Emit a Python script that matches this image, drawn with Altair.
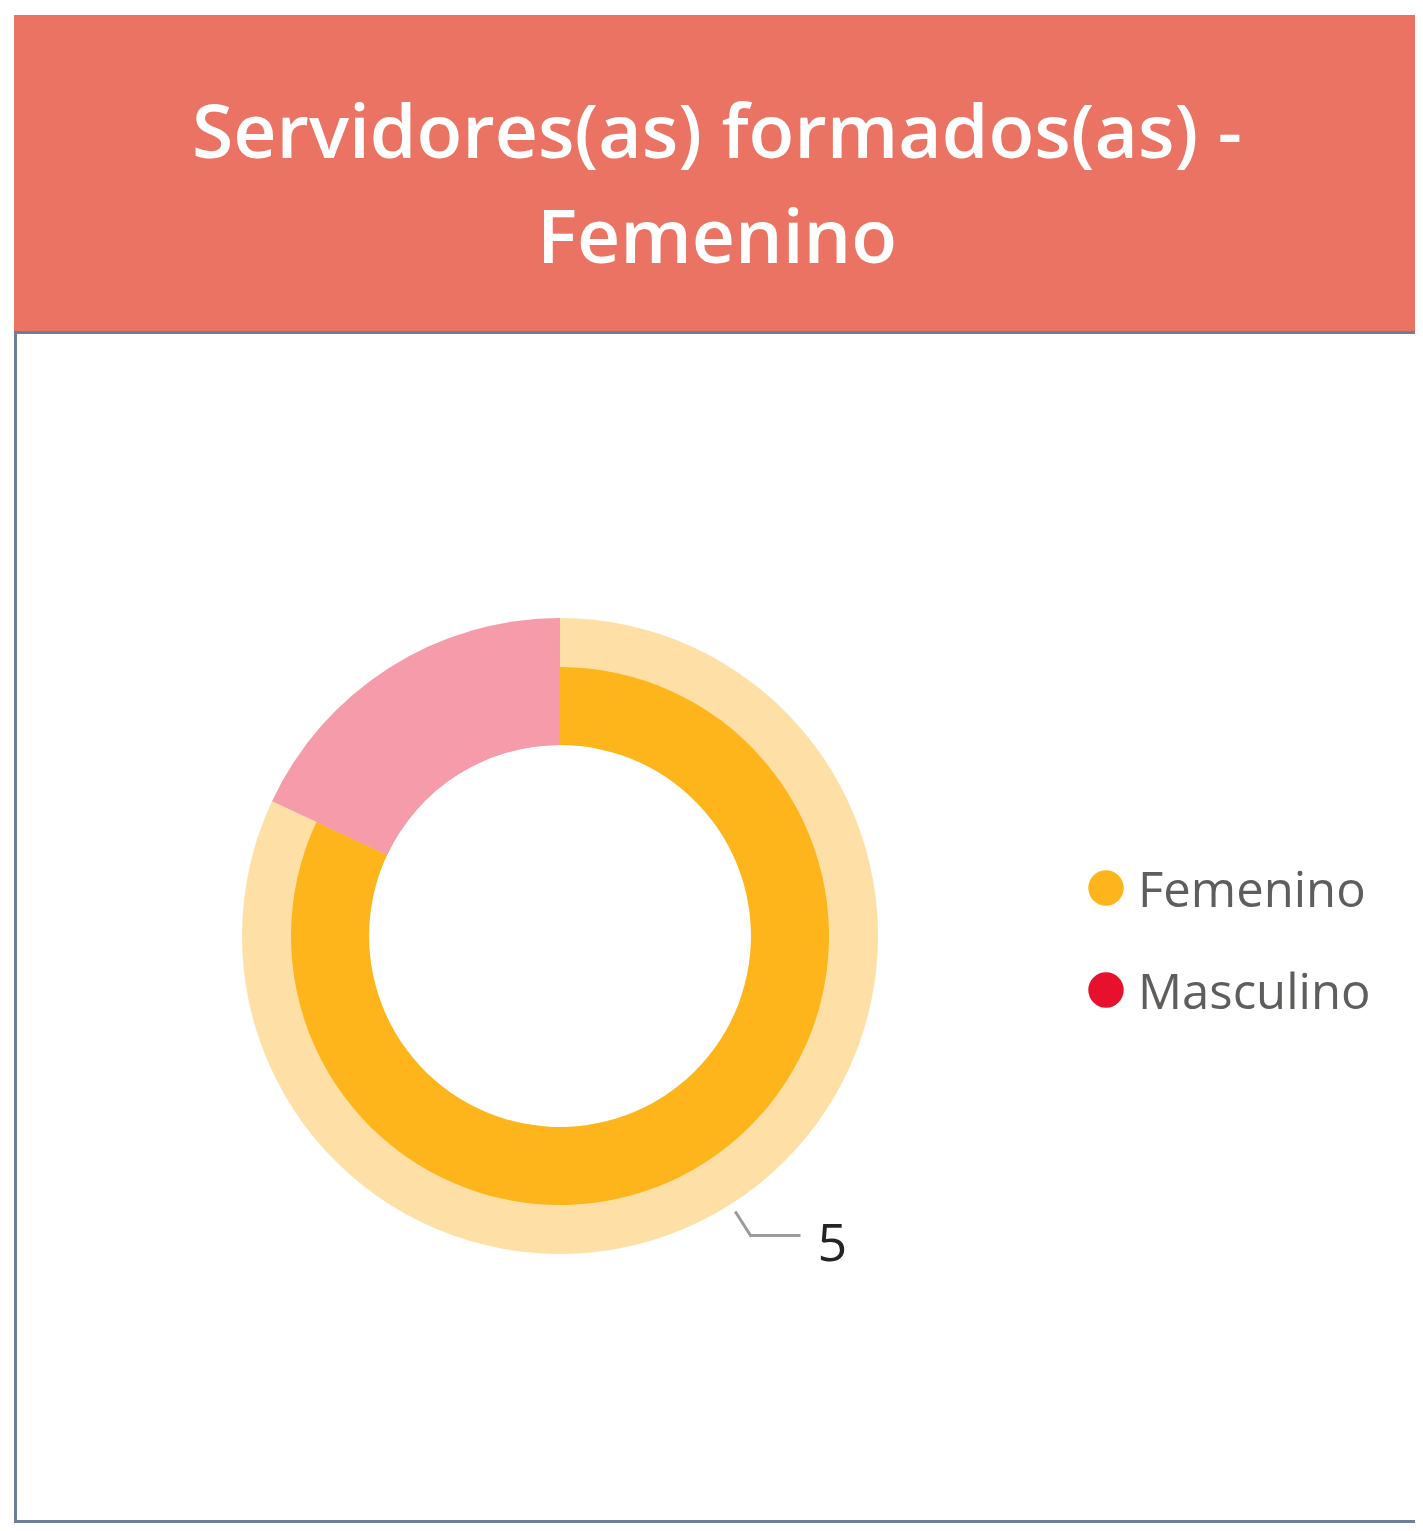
import altair as alt
import pandas as pd

# ---- data ----
title_lines = ["Servidores(as) formados(as) -", "Femenino"]
categories = ["Femenino", "Masculino"]
values = [5, 1.1]
labelled = ["Femenino"]

# ---- styles ----
legend_colors = ["#FDB51B", "#E8112D"]
outer_colors = ["#FEE0A6", "#F59BA9"]
inner_colors = ["#FDB51B", "#F59BA9"]
FONT = "Open Sans"

W, H = 1401, 1508
CX, CY = 546, 921
R_OUT, R_MID, R_IN = 318, 269, 191
R_L1, R_L2 = 328, 355

df = pd.DataFrame({"category": categories, "value": values,
                   "idx": list(range(len(categories)))})
dummy = alt.Data(values=[{}])

panel = alt.Chart(dummy).mark_rect(fill="white", stroke="#6E7E98", strokeWidth=3).encode(
    x=alt.value(1.5), x2=alt.value(W + 20), y=alt.value(317.5), y2=alt.value(H - 1.5))
banner = alt.Chart(dummy).mark_rect(fill="#EA7363").encode(
    x=alt.value(0), x2=alt.value(W + 20), y=alt.value(0), y2=alt.value(316))
title = alt.Chart(dummy).mark_text(
    align="center", baseline="alphabetic", fontSize=75, fontWeight=600, font=FONT,
    color="white", lineHeight=105).encode(
    x=alt.value(703), y=alt.value(143), text=alt.value(title_lines))

base = alt.Chart(df).transform_joinaggregate(total="sum(value)").transform_window(
    cum="sum(value)", sort=[alt.SortField("idx")], frame=[None, 0]
).transform_calculate(
    t0="(datum.cum - datum.value) / datum.total * 2 * PI",
    t1="datum.cum / datum.total * 2 * PI",
).transform_calculate(tm="(datum.t0 + datum.t1) / 2")

outer = base.mark_arc(radius=R_OUT, radius2=R_IN).encode(
    theta=alt.Theta("t0:Q", scale=None, stack=None), theta2="t1:Q",
    x=alt.value(CX), y=alt.value(CY),
    color=alt.Color("category:N", scale=alt.Scale(domain=categories, range=outer_colors), legend=None))
inner = base.mark_arc(radius=R_MID, radius2=R_IN).encode(
    theta=alt.Theta("t0:Q", scale=None, stack=None), theta2="t1:Q",
    x=alt.value(CX), y=alt.value(CY),
    color=alt.Color("category:N", scale=alt.Scale(domain=categories, range=inner_colors), legend=None))

lab = base.transform_filter(alt.FieldOneOfPredicate(field="category", oneOf=labelled)).transform_calculate(
    lx1=f"{CX} + {R_L1} * sin(datum.tm)",
    ly1=f"{CY} - {R_L1} * cos(datum.tm)",
    lx2=f"{CX} + {R_L2} * sin(datum.tm)",
    ly2=f"{CY} - {R_L2} * cos(datum.tm)",
).transform_calculate(lx3="datum.lx2 + 50")

rule1 = lab.mark_rule(color="#9B9B9B", strokeWidth=3, strokeCap="square").encode(
    x=alt.X("lx1:Q", scale=None), y=alt.Y("ly1:Q", scale=None), x2="lx2:Q", y2="ly2:Q")
rule2 = lab.mark_rule(color="#9B9B9B", strokeWidth=3).encode(
    x=alt.X("lx2:Q", scale=None), y=alt.Y("ly2:Q", scale=None), x2="lx3:Q")
label = lab.mark_text(align="left", baseline="alphabetic", fontSize=52, font=FONT,
                      color="#252423", dx=17, dy=25).encode(
    x=alt.X("lx3:Q", scale=None), y=alt.Y("ly2:Q", scale=None),
    text=alt.Text("value:Q", format="d"))

leg_y = alt.Y("category:N", scale=alt.Scale(domain=categories, range=[873, 975], padding=0), axis=None)
dots = alt.Chart(df).mark_circle(size=1257, opacity=1).encode(
    x=alt.value(1092), y=leg_y,
    color=alt.Color("category:N", scale=alt.Scale(domain=categories, range=legend_colors), legend=None))
names = alt.Chart(df).mark_text(align="left", baseline="alphabetic", dy=19, fontSize=49,
                                font=FONT, color="#605E5C").encode(
    x=alt.value(1124), y=leg_y, text="category:N")

chart = alt.layer(panel, banner, title, outer, inner, rule1, rule2, label, dots, names).resolve_scale(
    color="independent", y="independent", x="independent"
).properties(
    width=W, height=H, autosize="none", background="white",
    padding={"left": 6, "top": 7, "right": 0, "bottom": 0},
).configure_view(stroke=None)

chart.save("out.html", embed_options={"renderer": "svg", "actions": False})
